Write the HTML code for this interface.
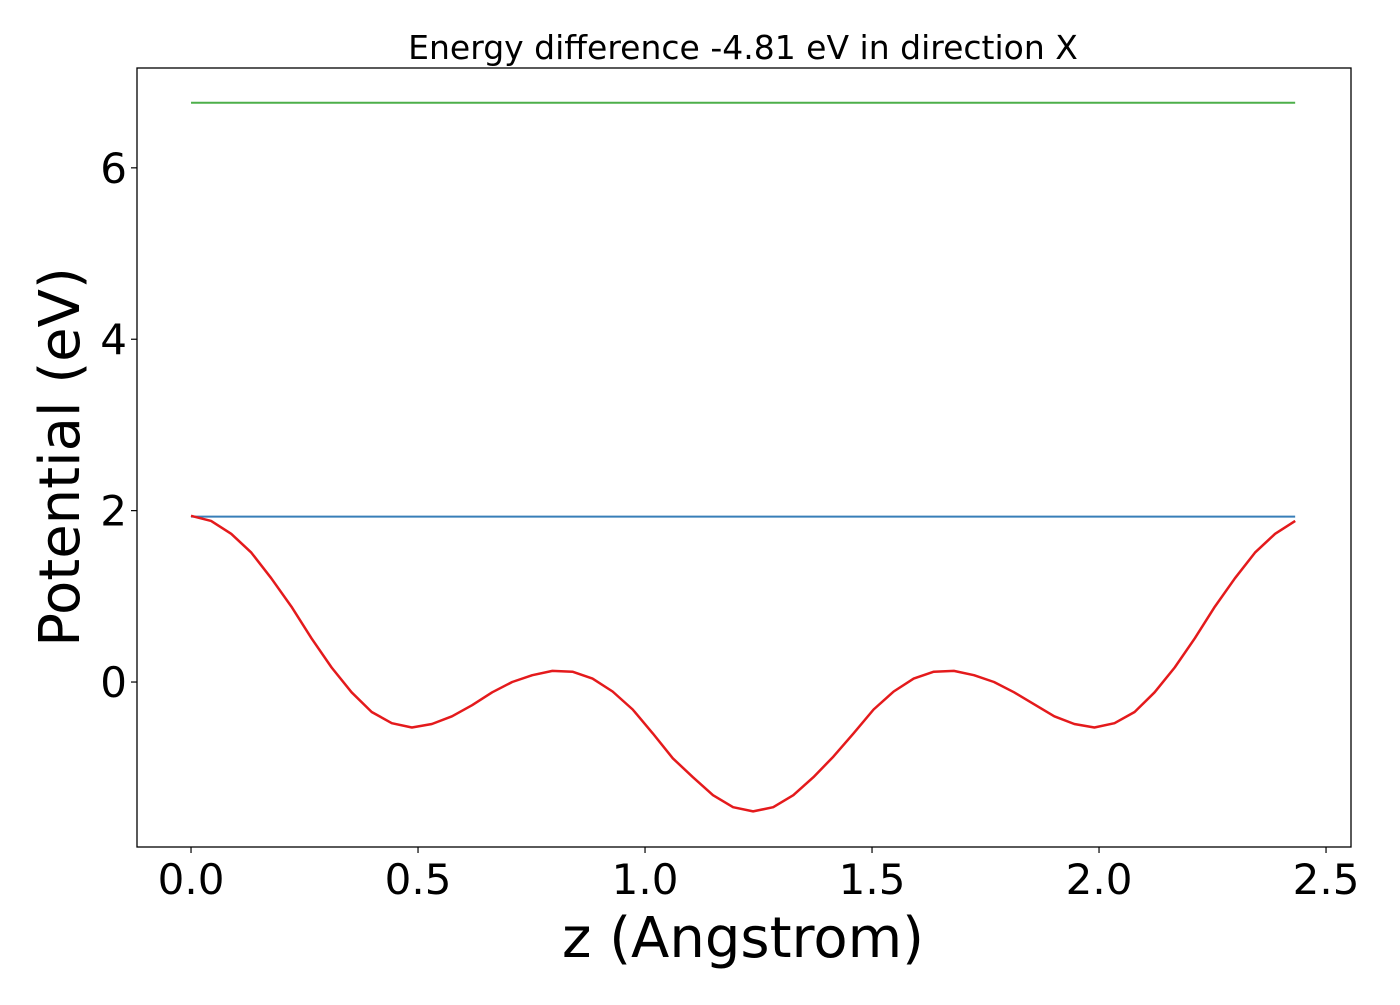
<!DOCTYPE html>
<html><head><meta charset="utf-8"><style>
html,body{margin:0;padding:0;background:#fff;}
svg text{font-family:"DejaVu Sans","Liberation Sans",sans-serif;fill:#000;}
</style></head><body>
<svg id="chart" width="1400" height="1000" xmlns="http://www.w3.org/2000/svg">
<rect x="0" y="0" width="1400" height="1000" fill="#fff"/>
<text x="743" y="59" font-size="33" text-anchor="middle">Energy difference -4.81 eV in direction X</text>
<text x="743" y="957" font-size="56" text-anchor="middle">z (Angstrom)</text>
<text transform="translate(79,457) rotate(-90)" font-size="56" text-anchor="middle">Potential (eV)</text>
<g id="plot"></g>
</svg>
<script>
const xTicks = [0.0, 0.5, 1.0, 1.5, 2.0, 2.5];
const xTickLabels = ["0.0","0.5","1.0","1.5","2.0","2.5"];
const yTicks = [0, 2, 4, 6];
const yTickLabels = ["0","2","4","6"];
const zMax = 2.432;
const potential = [1.94,1.88,1.73,1.51,1.21,0.88,0.51,0.17,-0.12,-0.35,-0.48,-0.53,-0.49,-0.40,-0.27,-0.12,0.00,0.08,0.13,0.12,0.04,-0.11,-0.32,-0.60,-0.89,-1.11,-1.32,-1.46,-1.51,-1.46,-1.32,-1.11,-0.87,-0.60,-0.32,-0.11,0.04,0.12,0.13,0.08,0.00,-0.12,-0.26,-0.40,-0.49,-0.53,-0.48,-0.35,-0.12,0.17,0.51,0.88,1.21,1.51,1.73,1.88];
const vacuumLevel = [6.76];
const averageLevel = [1.93];

const L=137,R=1351,T=68,B=847;
const xMin=-0.119,xMax=2.555,yMin=-1.925,yMax=7.165;
function sx(v){return L+(v-xMin)/(xMax-xMin)*(R-L);}
function sy(v){return B-(v-yMin)/(yMax-yMin)*(B-T);}
const NS="http://www.w3.org/2000/svg";
const g=document.getElementById('plot');
function mk(tag,attrs){const e=document.createElementNS(NS,tag);for(const k in attrs)e.setAttribute(k,attrs[k]);g.appendChild(e);return e;}

const hl1=mk('line',{x1:sx(0),x2:sx(zMax),y1:sy(vacuumLevel[0]),y2:sy(vacuumLevel[0]),stroke:'#4daf4a','stroke-width':2});


const hl2=mk('line',{x1:sx(0),x2:sx(zMax),y1:sy(averageLevel[0]),y2:sy(averageLevel[0]),stroke:'#377eb8','stroke-width':2});


const n=potential.length;
const pts=potential.map((v,i)=>sx(i*zMax/(n-1)).toFixed(1)+','+sy(v).toFixed(1)).join(' ');
const pl=mk('polyline',{points:pts,fill:'none',stroke:'#e41a1c','stroke-width':2.5,'stroke-linejoin':'round'});



const frame=mk('rect',{x:L,y:T,width:R-L,height:B-T,fill:'none',stroke:'#000','stroke-width':1.3});



xTicks.forEach((t,i)=>{
  const x=sx(t);
  const tk=mk('line',{x1:x,x2:x,y1:B,y2:B+6,stroke:'#000','stroke-width':1.2});
  
  
  const tx=mk('text',{x:x,y:B+47,'font-size':42,'text-anchor':'middle'});
  tx.textContent=xTickLabels[i];
  
  
});
yTicks.forEach((t,i)=>{
  const y=sy(t);
  const tk=mk('line',{x1:L-6,x2:L,y1:y,y2:y,stroke:'#000','stroke-width':1.2});
  
  
  const tx=mk('text',{x:L-10,y:y+15,'font-size':42,'text-anchor':'end'});
  tx.textContent=yTickLabels[i];
  
  
});
</script>
</body></html>
